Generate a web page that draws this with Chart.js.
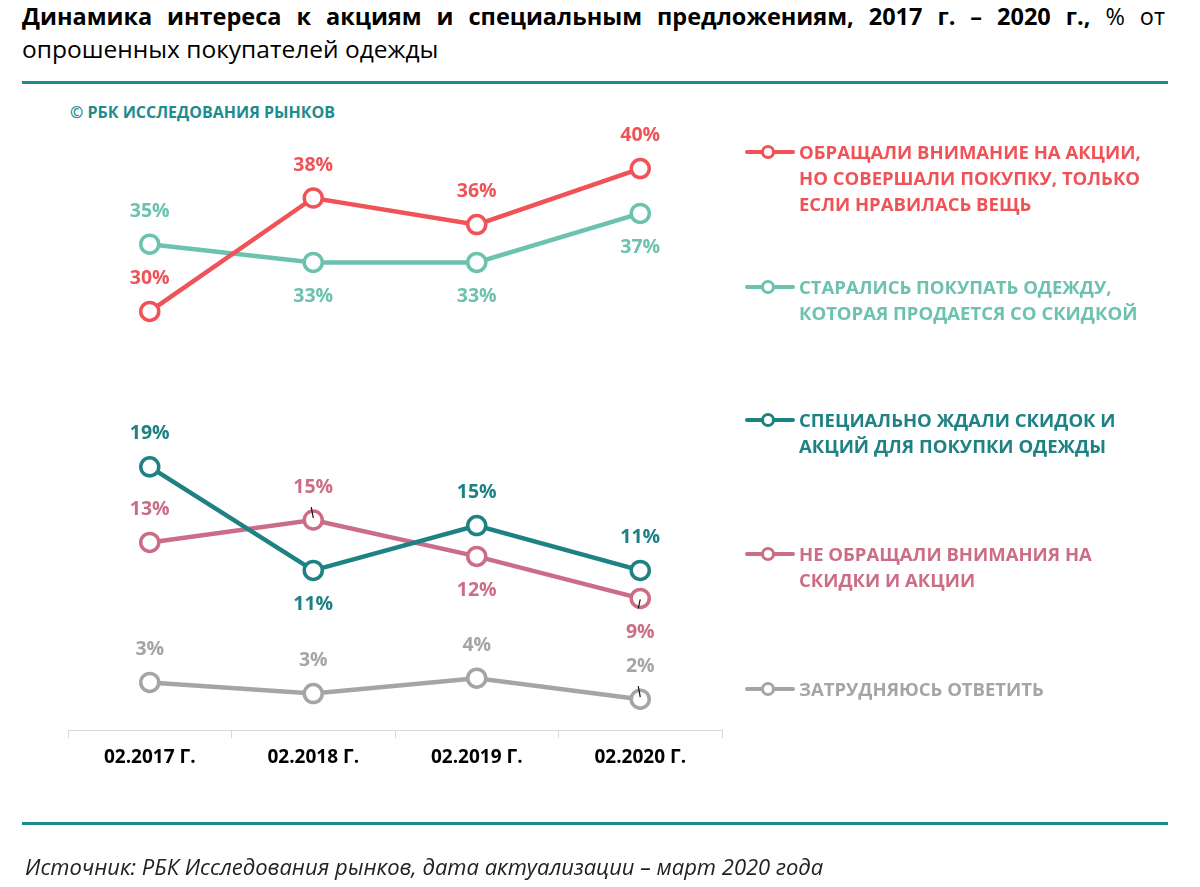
<!DOCTYPE html>
<html lang="ru">
<head>
<meta charset="utf-8">
<script src="https://cdn.jsdelivr.net/npm/chart.js@4/dist/chart.umd.min.js"></script>
<style>
  html, body { margin: 0; padding: 0; background: #fff; }
  body { width: 1200px; height: 887px; position: relative; overflow: hidden; font-family: "Open Sans", "Noto Sans", sans-serif; }
  #chart { position: absolute; left: 0; top: 0; }
  .title1 { position: absolute; left: 22px; top: 0px; width: 1143px; font-size: 23.5px; line-height: 32px; color: #000;
            text-align: justify; text-align-last: justify; }
  .title2 { position: absolute; left: 22px; top: 32px; font-size: 24.5px; line-height: 34px; color: #000; }
  .rule { position: absolute; left: 22px; width: 1146px; height: 3px; background: #1E8C8C; }
  .copy { position: absolute; left: 70px; top: 101px; font-size: 16px; font-weight: 700; color: #1E8C8C; line-height: 22px; }
  .source { position: absolute; left: 25px; top: 851px; font-size: 22px; font-style: italic; color: #222; line-height: 30px; }
  .leg { position: absolute; left: 745px; font-weight: 700; font-size: 18.5px; line-height: 26px; }
  .leg .mk { position: absolute; left: 0; top: 11px; width: 50px; height: 4px; border-radius: 2px; }
  .leg .mk i { position: absolute; left: 16px; top: -5px; width: 8px; height: 8px; border-radius: 50%; background: #fff; border: 3px solid; }
  .leg .tx { margin-left: 54px; white-space: nowrap; }
</style>
</head>
<body>
<div class="title1"><b>Динамика интереса к акциям и специальным предложениям, 2017 г. – 2020 г.,</b> % от</div>
<div class="title2">опрошенных покупателей одежды</div>
<div class="rule" style="top:81px"></div>
<div class="copy">© РБК ИССЛЕДОВАНИЯ РЫНКОВ</div>
<canvas id="chart" width="1200" height="887"></canvas>
<div id="legend"></div>
<div class="rule" style="top:822px"></div>
<div class="source">Источник: РБК Исследования рынков, дата актуализации – март 2020 года</div>
<script>
// ---- data ----
const categories = ['02.2017 Г.', '02.2018 Г.', '02.2019 Г.', '02.2020 Г.'];
const seriesNames = [
  'Обращали внимание на акции, но совершали покупку, только если нравилась вещь',
  'Старались покупать одежду, которая продается со скидкой',
  'Специально ждали скидок и акций для покупки одежды',
  'Не обращали внимания на скидки и акции',
  'Затрудняюсь ответить'
];
const legendLines = [
  ['ОБРАЩАЛИ ВНИМАНИЕ НА АКЦИИ,', 'НО СОВЕРШАЛИ ПОКУПКУ, ТОЛЬКО', 'ЕСЛИ НРАВИЛАСЬ ВЕЩЬ'],
  ['СТАРАЛИСЬ ПОКУПАТЬ ОДЕЖДУ,', 'КОТОРАЯ ПРОДАЕТСЯ СО СКИДКОЙ'],
  ['СПЕЦИАЛЬНО ЖДАЛИ СКИДОК И', 'АКЦИЙ ДЛЯ ПОКУПКИ ОДЕЖДЫ'],
  ['НЕ ОБРАЩАЛИ ВНИМАНИЯ НА', 'СКИДКИ И АКЦИИ'],
  ['ЗАТРУДНЯЮСЬ ОТВЕТИТЬ']
];
const noticedPromo   = [29.9, 38.0, 36.1, 40.1];
const triedDiscount  = [34.7, 33.4, 33.4, 36.9];
const waitedSales    = [18.8, 11.4, 14.6, 11.4];
const ignoredSales   = [13.4, 15.0, 12.4, 9.4];
const hardToSay      = [3.4, 2.6, 3.7, 2.2];

// ---- styles ----
const colors = ['#EF5358', '#6CC2AF', '#1E8184', '#CC6D88', '#A5A5A5'];
const labelSide = [
  ['up', 'up', 'up', 'up'],
  ['up', 'down', 'down', 'down'],
  ['up', 'down', 'up', 'up'],
  ['up', 'up', 'down', 'down'],
  ['up', 'up', 'up', 'up']
];
const leaderLines = [
  [false, false, false, false],
  [false, false, false, false],
  [false, false, false, false],
  [false, true, false, true],
  [false, false, false, true]
];
const legendTops = [139, 274, 407, 541, 676];

const allSeries = [noticedPromo, triedDiscount, waitedSales, ignoredSales, hardToSay];

// legend (HTML)
const legEl = document.getElementById('legend');
legendLines.forEach((lines, i) => {
  const d = document.createElement('div');
  d.className = 'leg';
  d.style.top = legendTops[i] + 'px';
  d.style.color = colors[i];
  d.innerHTML = '<span class="mk" style="background:' + colors[i] + '"><i style="border-color:' + colors[i] + '"></i></span>' +
    '<div class="tx">' + lines.join('<br>') + '</div>';
  legEl.appendChild(d);
});

const dataLabels = {
  id: 'dataLabels',
  afterDatasetsDraw(chart) {
    const ctx = chart.ctx;
    ctx.save();
    ctx.font = 'bold 19.5px "Open Sans", sans-serif';
    ctx.textAlign = 'center';
    ctx.textBaseline = 'middle';
    chart.data.datasets.forEach((ds, i) => {
      const meta = chart.getDatasetMeta(i);
      meta.data.forEach((pt, j) => {
        const up = labelSide[i][j] === 'up';
        const off = up ? -33 : 34;
        ctx.fillStyle = colors[i];
        ctx.fillText(Math.round(ds.data[j]) + '%', pt.x, pt.y + off);
        if (leaderLines[i][j]) {
          ctx.strokeStyle = '#111';
          ctx.lineWidth = 1.2;
          ctx.beginPath();
          if (up) { ctx.moveTo(pt.x - 2, pt.y - 13); ctx.lineTo(pt.x, pt.y - 2); }
          else { ctx.moveTo(pt.x, pt.y + 1); ctx.lineTo(pt.x - 2, pt.y + 10); }
          ctx.stroke();
        }
      });
    });
    ctx.restore();
  }
};

new Chart(document.getElementById('chart'), {
  type: 'line',
  data: {
    labels: categories,
    datasets: allSeries.map((arr, i) => ({
      label: seriesNames[i],
      data: arr,
      borderColor: colors[i],
      backgroundColor: '#fff',
      borderWidth: 4.5,
      pointRadius: 9,
      pointBorderWidth: 3.5,
      pointBackgroundColor: '#fff',
      pointBorderColor: colors[i],
      tension: 0,
      clip: false
    }))
  },
  options: {
    responsive: false,
    animation: false,
    layout: { padding: { left: 68, right: 478, top: 142, bottom: 97 } },
    plugins: { legend: { display: false }, tooltip: { enabled: false } },
    scales: {
      x: {
        offset: true,
        grid: { offset: true, drawOnChartArea: false, tickLength: 8, color: '#D9D9D9', lineWidth: 1 },
        border: { display: true, color: '#D9D9D9', width: 1 },
        ticks: { color: '#000', font: { family: '"Open Sans", sans-serif', size: 19, weight: 'bold' }, padding: 8 },
        afterFit: (s) => { s.height = 60; }
      },
      y: { display: false, min: 0, max: 42 }
    }
  },
  plugins: [dataLabels]
});
</script>
</body>
</html>
